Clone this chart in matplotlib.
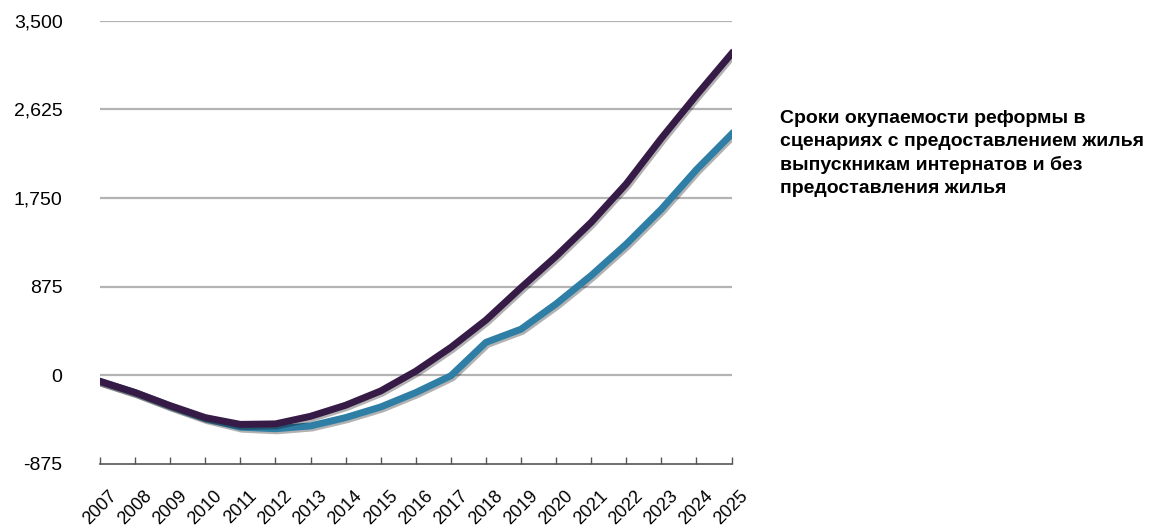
import matplotlib.pyplot as plt
import matplotlib.patheffects as pe

plt.rcParams['font.family'] = ['Liberation Sans', 'DejaVu Sans']

# Данные
years = list(range(2007, 2026))
with_housing = [-60, -170, -300, -418, -485, -480, -405, -296, -155, 40,
                275, 545, 865, 1175, 1510, 1890, 2340, 2765, 3175]
without_housing = [-60, -172, -305, -428, -512, -528, -500, -418, -313, -171,
                   -5, 325, 455, 705, 985, 1295, 1640, 2030, 2380]
y_ticks = [-875, 0, 875, 1750, 2625, 3500]
title = ('Сроки окупаемости реформы в\n'
         'сценариях с предоставлением жилья\n'
         'выпускникам интернатов и без\n'
         'предоставления жилья')

fig = plt.figure(figsize=(11.63, 5.32), dpi=100)
ax = fig.add_axes([0.086, 0.128, 0.543, 0.833])

shadow = [pe.SimpleLineShadow(offset=(1.2, -1.5), shadow_color='black',
                              alpha=0.3), pe.Normal()]
ax.plot(years, without_housing, color='#2e7ea5', lw=5,
        solid_joinstyle='round', path_effects=shadow, zorder=3)
ax.plot(years, with_housing, color='#371b47', lw=5,
        solid_joinstyle='round', path_effects=shadow, zorder=4)

ax.set_xlim(2007, 2025)
ax.set_ylim(-875, 3500)
ax.set_yticks(y_ticks)
ax.set_yticklabels([f'{v:,}' for v in y_ticks], fontsize=14)
ax.set_xticks(years)
ax.set_xticklabels([str(y) for y in years], rotation=45, ha='center',
                   va='top', fontsize=13)

for v in y_ticks[1:]:
    ax.axhline(v, color='#b3b3b3', lw=1.6, zorder=1)

for s in ['top', 'right', 'left']:
    ax.spines[s].set_visible(False)
ax.spines['bottom'].set_color('#555555')
ax.spines['bottom'].set_linewidth(1.2)
ax.tick_params(axis='x', direction='in', length=5, width=1, color='#555555',
               pad=17)
ax.tick_params(axis='y', length=0, pad=27)

fig.text(0.671, 0.793, title, fontsize=14, fontweight='bold', va='top',
         ha='left', linespacing=1.45)

fig.savefig('out.png', dpi=100)
